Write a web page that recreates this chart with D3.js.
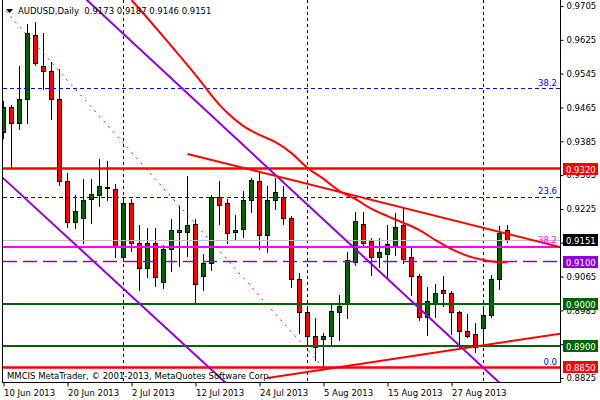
<!DOCTYPE html>
<html><head><meta charset="utf-8">
<script src="https://cdn.jsdelivr.net/npm/d3@7"></script>
<style>body{margin:0;background:#fff}svg{display:block}</style>
</head><body><svg id="c" width="600" height="400"></svg>
<script>
// ---------- DATA ----------
const dates = ["2013-06-10","2013-06-11","2013-06-12","2013-06-13","2013-06-14","2013-06-17","2013-06-18","2013-06-19","2013-06-20","2013-06-21","2013-06-24","2013-06-25","2013-06-26","2013-06-27","2013-06-28",
"2013-07-01","2013-07-02","2013-07-03","2013-07-04","2013-07-05","2013-07-08","2013-07-09","2013-07-10","2013-07-11","2013-07-12","2013-07-15","2013-07-16","2013-07-17","2013-07-18","2013-07-19","2013-07-22","2013-07-23","2013-07-24","2013-07-25","2013-07-26","2013-07-29","2013-07-30","2013-07-31",
"2013-08-01","2013-08-02","2013-08-05","2013-08-06","2013-08-07","2013-08-08","2013-08-09","2013-08-12","2013-08-13","2013-08-14","2013-08-15","2013-08-16","2013-08-19","2013-08-20","2013-08-21","2013-08-22","2013-08-23","2013-08-26","2013-08-27","2013-08-28","2013-08-29","2013-08-30",
"2013-09-02","2013-09-03","2013-09-04","2013-09-05"];
const open  = [0.9405,0.9464,0.9426,0.9485,0.9636,0.9563,0.9551,0.9485,0.9291,0.9194,0.9203,0.9248,0.9256,0.9274,0.9272,
               0.9111,0.9237,0.9144,0.9085,0.9142,0.9050,0.9130,0.9175,0.9170,0.9187,0.9064,0.9095,0.9251,0.9237,0.9170,0.9177,0.9244,0.9291,0.9161,0.9244,0.9251,0.9203,0.9059,
               0.8979,0.8922,0.8917,0.8924,0.8981,0.8998,0.9099,0.9187,0.9147,0.9111,0.9118,0.9137,0.9185,0.9109,0.9064,0.8967,0.9000,0.9033,0.9026,0.8979,0.8934,0.8927,
               0.8941,0.8974,0.9059,0.9173];
const high  = [0.9480,0.9471,0.9563,0.9662,0.9667,0.9641,0.9573,0.9556,0.9310,0.9258,0.9296,0.9296,0.9343,0.9338,0.9284,
               0.9253,0.9248,0.9187,0.9180,0.9180,0.9140,0.9201,0.9232,0.9303,0.9201,0.9118,0.9258,0.9291,0.9248,0.9211,0.9267,0.9298,0.9312,0.9279,0.9298,0.9279,0.9208,0.9073,
               0.8993,0.8967,0.8931,0.9002,0.9021,0.9123,0.9218,0.9218,0.9156,0.9156,0.9187,0.9215,0.9230,0.9133,0.9071,0.9040,0.9047,0.9066,0.9031,0.8983,0.8976,0.8955,
               0.8993,0.9069,0.9185,0.9187];
const low   = [0.9393,0.9322,0.9414,0.9428,0.9565,0.9509,0.9438,0.9282,0.9182,0.9180,0.9144,0.9192,0.9232,0.9246,0.9111,
               0.9109,0.9125,0.9033,0.9064,0.9043,0.9038,0.9078,0.9090,0.9114,0.9005,0.9033,0.9080,0.9189,0.9144,0.9151,0.9159,0.9218,0.9130,0.9123,0.9225,0.9189,0.9040,0.8931,
               0.8903,0.8868,0.8849,0.8901,0.8915,0.8967,0.9092,0.9135,0.9069,0.9088,0.9062,0.9116,0.9097,0.9021,0.8962,0.8927,0.8969,0.8995,0.8929,0.8896,0.8922,0.8886,
               0.8913,0.8969,0.9036,0.9146];
const close = [0.9464,0.9428,0.9483,0.9641,0.9568,0.9551,0.9485,0.9291,0.9192,0.9218,0.9246,0.9258,0.9277,0.9275,0.9135,
               0.9237,0.9144,0.9085,0.9144,0.9062,0.9130,0.9173,0.9170,0.9185,0.9047,0.9095,0.9251,0.9234,0.9168,0.9173,0.9244,0.9293,0.9161,0.9244,0.9263,0.9203,0.9059,0.8981,
               0.8922,0.8898,0.8922,0.8983,0.8995,0.9102,0.9196,0.9144,0.9111,0.9121,0.9140,0.9182,0.9106,0.9066,0.8967,0.9005,0.9024,0.9026,0.8981,0.8934,0.8924,0.8898,
               0.8972,0.9059,0.9168,0.9151];

// Moving average (red curve), read at selected bars
const maDates  = ["2013-07-02","2013-07-03","2013-07-08","2013-07-12","2013-07-17","2013-07-18","2013-07-22","2013-07-24","2013-07-26","2013-07-30",
                  "2013-08-01","2013-08-05","2013-08-07","2013-08-09","2013-08-13","2013-08-15","2013-08-19","2013-08-21","2013-08-23","2013-08-27","2013-08-29","2013-09-02","2013-09-04","2013-09-05"];
const maValues = [0.9719,0.9698,0.9632,0.9542,0.9471,0.9452,0.9421,0.9400,0.9383,0.9357,
                  0.9322,0.9296,0.9267,0.9248,0.9225,0.9208,0.9192,0.9175,0.9151,0.9130,0.9114,0.9104,0.9099,0.9099];

// trend lines: two anchor points each [date, price]
const purpleUpper = [["2013-06-25",0.9709],["2013-08-29",0.8884]];
const purpleLower = [["2013-06-10",0.9297],["2013-07-17",0.8827]];
const redFalling  = [["2013-07-11",0.9355],["2013-09-05",0.9166]];
const redRising   = [["2013-07-25",0.8825],["2013-09-05",0.8911]];
const fiboBase    = [["2013-06-10",0.9699],["2013-08-05",0.8849]];

// horizontal levels
const levelPrices = [0.9320, 0.9100, 0.9000, 0.8900, 0.8850];
const levelTexts  = ["0.9320","0.9100","0.9000","0.8900","0.8850"];
const fiboLevels  = [0.8849, 0.9253, 0.9509];
const fiboLabels  = ["0.0","23.6","38.2"];
const fibo2Level  = 0.9135;
const fibo2Label  = "38.2";
const bidPrice    = 0.9151;

const priceTicks = [0.9705,0.9625,0.9545,0.9465,0.9385,0.9305,0.9225,0.9145,0.9065,0.8985,0.8905,0.8825];
// tick labels fully hidden behind the level boxes in the reference are left blank
const priceTickLabels = ["0.9705","0.9625","0.9545","0.9465","0.9385","0.9305","0.9225","","0.9065","0.8985","","0.8825"];
const dateTicks  = ["2013-06-10","2013-06-20","2013-07-02","2013-07-12","2013-07-24","2013-08-05","2013-08-15","2013-08-27"];
const dateTickLabels = ["10 Jun 2013","20 Jun 2013","2 Jul 2013","12 Jul 2013","24 Jul 2013","5 Aug 2013","15 Aug 2013","27 Aug 2013"];
const monthStarts = ["2013-07-01","2013-08-01","2013-09-02"];
const titleText = "AUDUSD,Daily  0.9173 0.9187 0.9146 0.9151";
const copyright = "MMCIS MetaTrader, \u00A9 2001-2013, MetaQuotes Software Corp.";

// ---------- DRAW ----------
const FONT = "DejaVu Sans";
const svg = d3.select("#c");
const L = 3, R = 560, B = 382;
const x = d3.scalePoint().domain(dates).range([3.5, 507.5]);
const y = d3.scaleLinear().domain([0.8825, 0.9705]).range([378, 6]);
const snap = v => Math.round(v - 0.5) + 0.5;

svg.append("defs").append("clipPath").attr("id","plot")
  .append("rect").attr("x",L).attr("y",0).attr("width",R-L).attr("height",B);

const plot = svg.append("g").attr("clip-path","url(#plot)");

// month separators
plot.selectAll(".sep").data(monthStarts).join("line")
  .attr("x1",d=>x(d)).attr("x2",d=>x(d)).attr("y1",0).attr("y2",B)
  .attr("stroke","#000").attr("stroke-width",1).attr("stroke-dasharray","3,3");

// candles
const idx = d3.range(dates.length);
const cg = plot.append("g");
cg.selectAll(".wick").data(idx).join("line")
  .attr("x1",i=>x(dates[i])).attr("x2",i=>x(dates[i]))
  .attr("y1",i=>Math.round(y(high[i]))).attr("y2",i=>Math.round(y(low[i]))+1)
  .attr("stroke","#000").attr("stroke-width",1);
cg.selectAll(".body").data(idx).join("rect")
  .attr("x",i=>x(dates[i])-2).attr("width",4)
  .attr("y",i=>snap(y(Math.max(open[i],close[i]))))
  .attr("height",i=>Math.max(0, snap(y(Math.min(open[i],close[i]))) - snap(y(Math.max(open[i],close[i])))))
  .attr("fill",i=>close[i]>=open[i]?"#006400":"#ff0000")
  .attr("stroke","#000").attr("stroke-width",1);

// horizontal lines
const hl = (price, color, w, dash) => {
  const yy = w % 2 ? snap(y(price)) : Math.round(y(price));
  const ln = plot.append("line").attr("x1",L).attr("x2",R).attr("y1",yy).attr("y2",yy)
    .attr("stroke",color).attr("stroke-width",w);
  if (dash) ln.attr("stroke-dasharray",dash);
};
fiboLevels.forEach(p => hl(p, "#0000ff", 1, "4,3"));
hl(bidPrice, "#c0c0c0", 1);
hl(fibo2Level, "#ff00ff", 2);
const levelColors = ["#ff0000","#9400d3","#006400","#006400","#ff0000"];
levelPrices.forEach((p,i) => {
  if (i === 1) hl(p, levelColors[i], 1.5, "14,6");
  else hl(p, levelColors[i], i===0||i===4 ? 2.5 : 2);
});

// trend lines
function seg(pts, extL, extR){
  const x1 = x(pts[0][0]), y1 = y(pts[0][1]), x2 = x(pts[1][0]), y2 = y(pts[1][1]);
  const k = (y2-y1)/(x2-x1);
  const xa = extL ? -50 : x1, xb = extR ? 650 : x2;
  return [[xa, y1 + k*(xa-x1)], [xb, y1 + k*(xb-x1)]];
}
const lineGen = d3.line();
const drawSeg = (pts, eL, eR, color, w, dash) => {
  const p = plot.append("path").attr("d", lineGen(seg(pts,eL,eR))).attr("fill","none")
    .attr("stroke",color).attr("stroke-width",w);
  if (dash) p.attr("stroke-dasharray",dash);
};
drawSeg(fiboBase, true, false, "#ff0000", 1, "2,5");
drawSeg(purpleUpper, true, true, "#9400d3", 2);
drawSeg(purpleLower, true, true, "#9400d3", 2);
drawSeg(redFalling, false, true, "#ff0000", 2);
drawSeg(redRising, false, true, "#ff0000", 2);

// moving average
plot.append("path")
  .attr("d", d3.line().x((d,i)=>x(maDates[i])).y(d=>y(d)).curve(d3.curveMonotoneX)(maValues))
  .attr("fill","none").attr("stroke","#ff0000").attr("stroke-width",2);

// fibo labels
fiboLevels.forEach((p,i) => {
  svg.append("text").attr("x",557).attr("y",Math.round(y(p))-3).attr("text-anchor","end")
    .attr("font-family",FONT).attr("font-size",8.5).attr("fill","#0000ff").text(fiboLabels[i]);
});
svg.append("text").attr("x",557).attr("y",Math.round(y(fibo2Level))-4).attr("text-anchor","end")
  .attr("font-family",FONT).attr("font-size",8.5).attr("fill","#ff00ff").text(fibo2Label);

// frame
svg.append("line").attr("x1",2.5).attr("x2",2.5).attr("y1",0).attr("y2",B).attr("stroke","#000");
svg.append("line").attr("x1",R+0.5).attr("x2",R+0.5).attr("y1",0).attr("y2",B+0.5).attr("stroke","#000");
svg.append("line").attr("x1",2).attr("x2",R+1).attr("y1",B+0.5).attr("y2",B+0.5).attr("stroke","#000");

// right axis
const ra = svg.append("g").attr("transform",`translate(${R+0.5},0)`)
  .call(d3.axisRight(y).tickValues(priceTicks).tickFormat((d,i)=>priceTickLabels[i]).tickSize(3).tickSizeOuter(0).tickPadding(3));
ra.select(".domain").remove();
ra.selectAll("text").attr("font-family",FONT).attr("font-size",8.5).attr("fill","#000");
ra.selectAll("line").attr("stroke","#000");

// bottom axis
const ba = svg.append("g").attr("transform",`translate(0,${B+0.5})`)
  .call(d3.axisBottom(x).tickValues(dateTicks).tickFormat((d,i)=>dateTickLabels[i]).tickSize(4).tickSizeOuter(0).tickPadding(3));
ba.select(".domain").remove();
ba.selectAll("text").attr("font-family",FONT).attr("font-size",8.5).attr("fill","#000").attr("text-anchor","start").attr("dx",0);
ba.selectAll("line").attr("stroke","#000");

// level labels on the axis
const allLabels = levelPrices.map((p,i)=>({p, t:levelTexts[i], c:levelColors[i]}));
allLabels.push({p:bidPrice, t:d3.format(".4f")(bidPrice), c:"#000"});
const lg = svg.append("g");
allLabels.forEach(d => {
  const yy = Math.round(y(d.p));
  lg.append("rect").attr("x",563).attr("y",yy-6).attr("width",35).attr("height",12).attr("fill",d.c);
  lg.append("text").attr("x",566).attr("y",yy+3.5).attr("font-family",FONT).attr("font-size",8.5)
    .attr("fill","#fff").text(d.t);
});

// title
svg.append("path").attr("d","M6,9 L13,9 L9.5,13 Z").attr("fill","#000");
svg.append("text").attr("x",18).attr("y",14).attr("font-family",FONT).attr("font-size",8.5)
  .attr("fill","#000").attr("xml:space","preserve").style("white-space","pre").text(titleText);
// copyright
svg.append("text").attr("x",7).attr("y",379).attr("font-family",FONT).attr("font-size",8.5)
  .attr("fill","#000").text(copyright);
</script></body></html>
